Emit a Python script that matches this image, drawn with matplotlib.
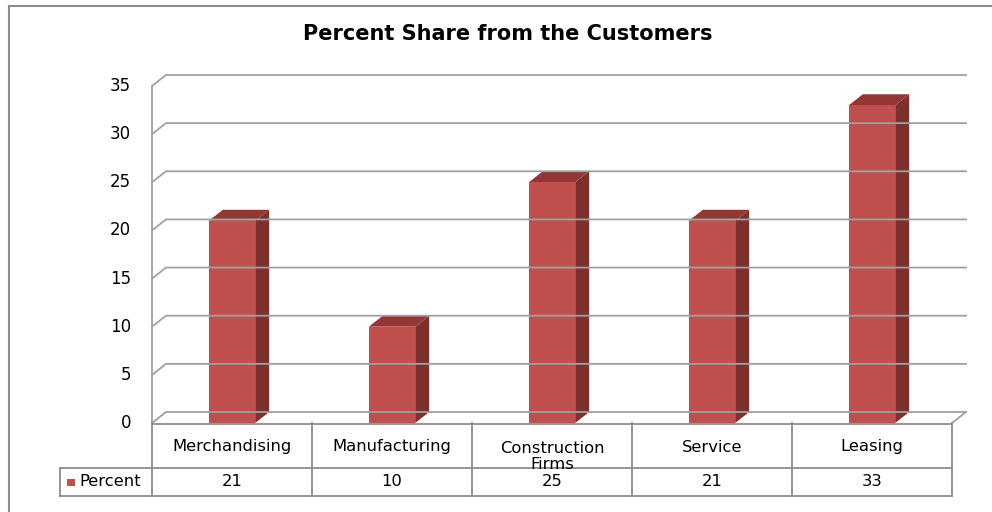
import matplotlib.pyplot as plt
from matplotlib.patches import Polygon, Rectangle
from matplotlib.lines import Line2D

categories = ["Merchandising", "Manufacturing", "Construction\nFirms", "Service", "Leasing"]
percent = [21, 10, 25, 21, 33]
series_name = "Percent"
yticks = [0, 5, 10, 15, 20, 25, 30, 35]
title = "Percent Share from the Customers"

W, H = 992, 512
fig = plt.figure(figsize=(W / 100, H / 100), dpi=100)

# front plane of the 3d plot in pixels
x0, x1 = 152, 952
y_zero, y_top = 423, 86
ax = fig.add_axes([x0 / W, 1 - y_zero / H, (x1 - x0) / W, (y_zero - y_top) / H])
ax.set_xlim(0, len(categories))
ax.set_ylim(0, 35)
ax.axis("off")

n = len(categories)
px_x = (x1 - x0) / n                     # pixels per category
px_per_unit = (y_zero - y_top) / 35
dx = 14 / px_x                           # depth offset in x data units
dy = 11 / px_per_unit                    # depth offset in y data units

grid_c = "#A0A0A0"
txt_font = "DejaVu Sans"

# back wall gridlines + left side diagonals
for v in yticks:
    ax.add_line(Line2D([0, dx, n + dx], [v, v + dy, v + dy], color=grid_c, lw=1.3, clip_on=False))
# floor right edge and left axis line
ax.add_line(Line2D([n + dx, n], [dy, 0], color=grid_c, lw=1.3, clip_on=False))
ax.add_line(Line2D([0, 0], [0, 35], color=grid_c, lw=1.3, clip_on=False))

# y labels
for v in yticks:
    ax.text(-21 / px_x, v, str(v), ha="right", va="center",
            fontsize=12, family=txt_font, color="#000000")

# bars
bw = 0.29
front_c, side_c, top_c = "#C0504D", "#7E302E", "#943634"
for i, v in enumerate(percent):
    xc = i + 0.5
    l, r = xc - bw / 2, xc + bw / 2
    ax.add_patch(Polygon([(r, 0), (r + dx, dy), (r + dx, v + dy), (r, v)],
                         closed=True, fc=side_c, ec="none", clip_on=False))
    ax.add_patch(Polygon([(l, v), (r, v), (r + dx, v + dy), (l + dx, v + dy)],
                         closed=True, fc=top_c, ec="none", clip_on=False))
    ax.bar(xc, v, width=bw, color=front_c, edgecolor="none", clip_on=False)

# data table below the plot
tbl_c = "#8C8C8C"
row1_bot, row2_bot = 468, 496
left_cell = 60
ty = lambda p: (y_zero - p) / (y_zero - y_top)
tr = ax.get_xaxis_transform()
xl = -(x0 - left_cell) / px_x

def tline(xs, ys):
    ax.add_line(Line2D(xs, ys, transform=tr, color=tbl_c, lw=1.3, clip_on=False, zorder=3))

tline([0, n], [ty(y_zero + 1)] * 2)
tline([xl, n], [ty(row1_bot)] * 2)
tline([xl, n], [ty(row2_bot)] * 2)
tline([xl, xl], [ty(row1_bot), ty(row2_bot)])
for k in range(n + 1):
    tline([k, k], [ty(y_zero), ty(row2_bot)])

fs = 11.8
for i, (c, v) in enumerate(zip(categories, percent)):
    if "\n" in c:
        ax.text(i + 0.5, ty(456.5), c, transform=tr, ha="center", va="center",
                fontsize=fs, family=txt_font, linespacing=1.05)
    else:
        ax.text(i + 0.5, ty(447), c, transform=tr, ha="center", va="center",
                fontsize=fs, family=txt_font)
    ax.text(i + 0.5, ty(482), str(v), transform=tr, ha="center", va="center",
            fontsize=fs, family=txt_font)

# legend key in the table
ax.add_patch(Rectangle((xl + 7 / px_x, ty(486)), 7.5 / px_x, ty(478.5) - ty(486),
                       transform=tr, fc=front_c, ec="none", clip_on=False))
ax.text(xl + 19 / px_x, ty(482), series_name, transform=tr, ha="left", va="center",
        fontsize=fs, family=txt_font)

# chart title
fig.text(508 / W, 1 - 34 / H, title, ha="center", va="center",
         fontsize=15, fontweight="bold", family=txt_font)

# chart area border (runs off the right and bottom edge)
fig.add_artist(Line2D([8.5 / W, 8.5 / W], [0, 1 - 5.5 / H], color="#8C8C8C", lw=1.5))
fig.add_artist(Line2D([8.5 / W, 1], [1 - 5.5 / H, 1 - 5.5 / H], color="#8C8C8C", lw=1.5))

fig.savefig("out.png", dpi=100)
